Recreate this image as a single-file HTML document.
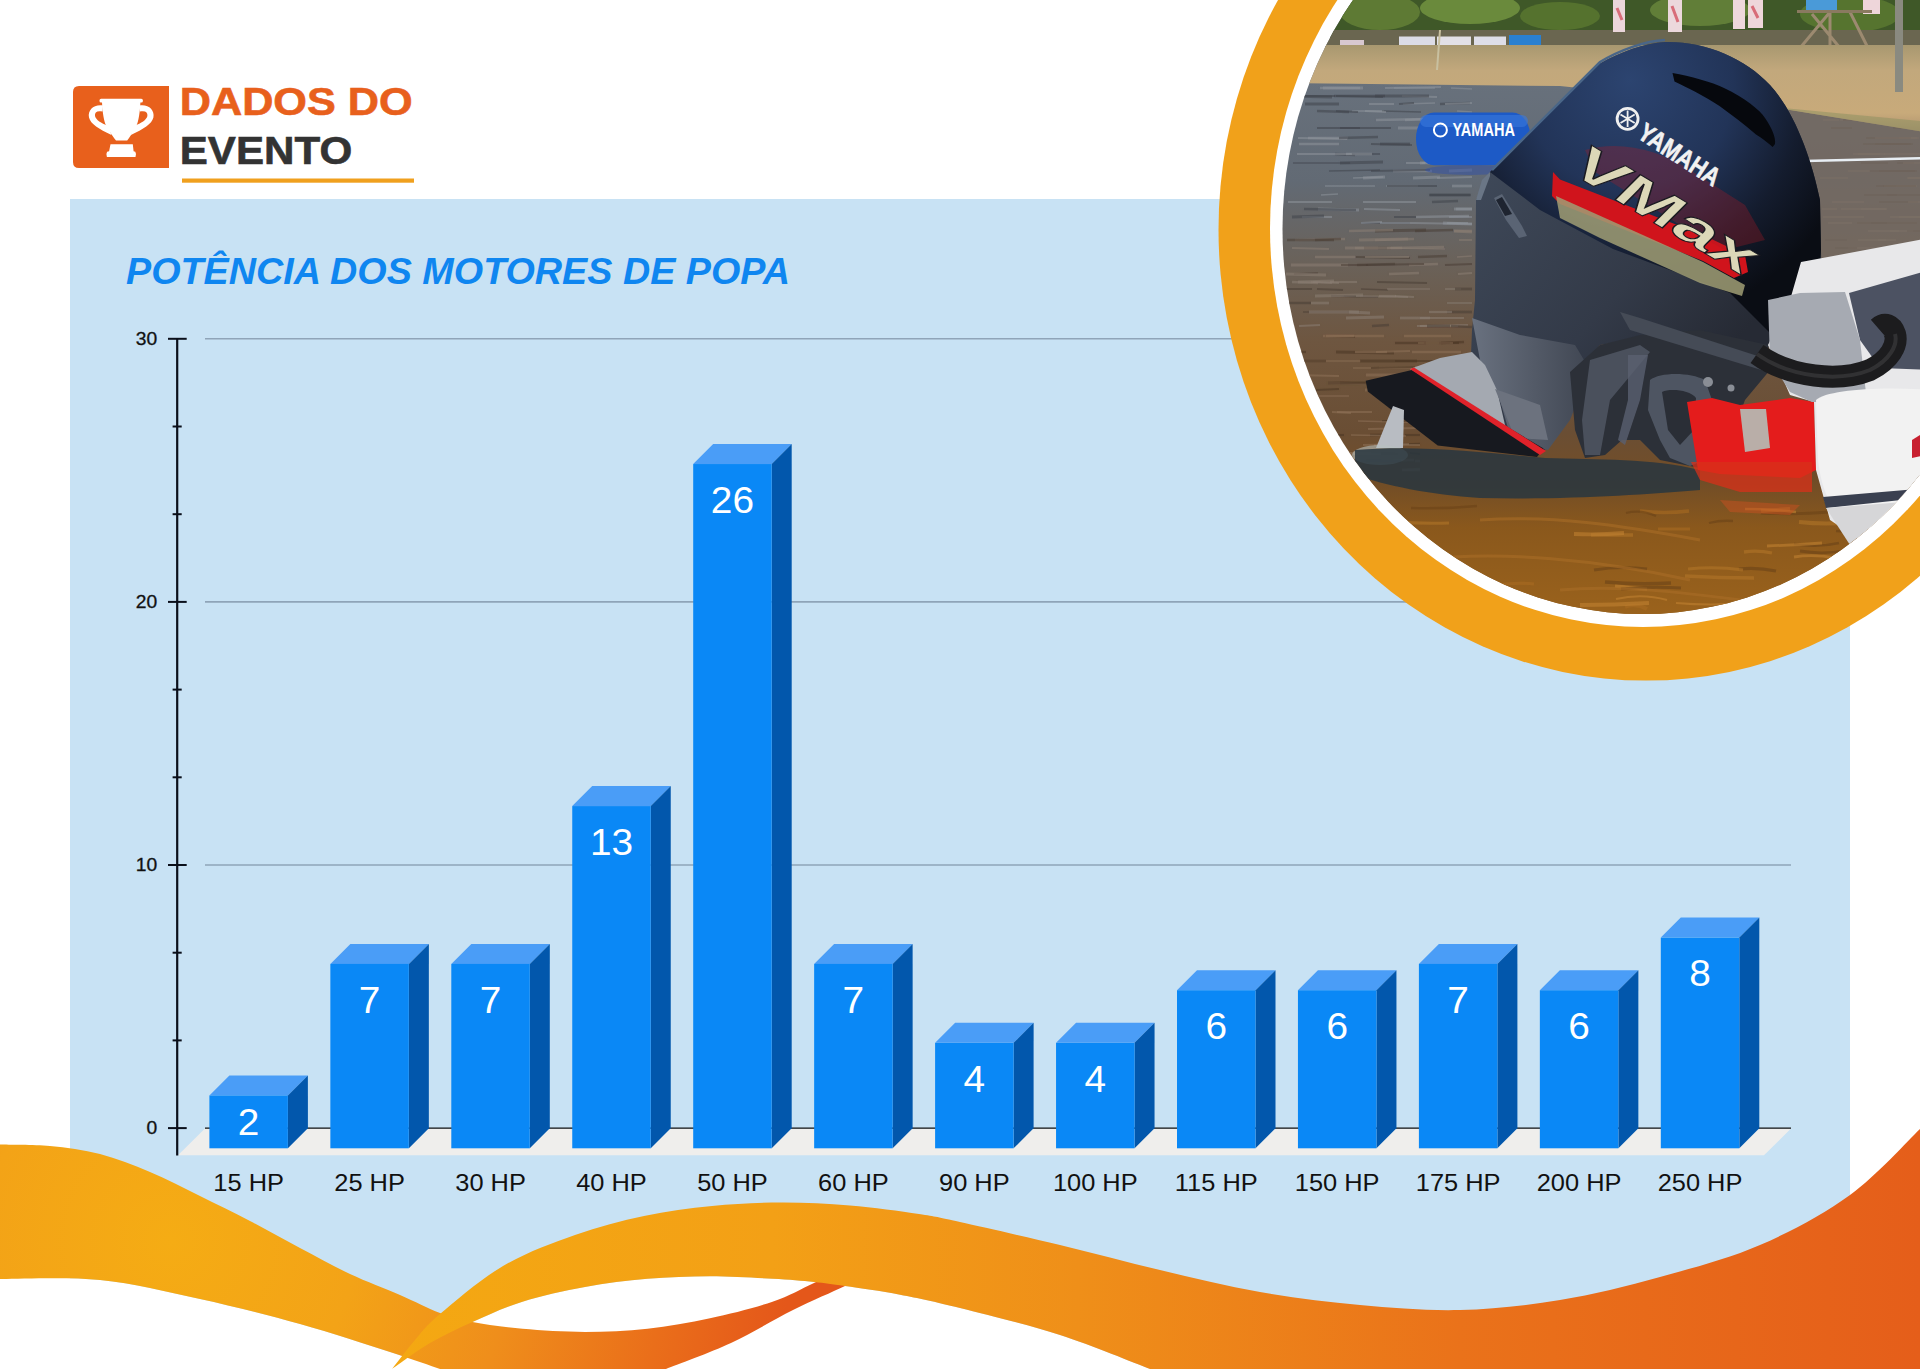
<!DOCTYPE html>
<html><head><meta charset="utf-8"><title>Dados do Evento</title>
<style>
html,body{margin:0;padding:0;background:#fff;}
body{width:1920px;height:1369px;overflow:hidden;position:relative;font-family:"Liberation Sans",sans-serif;}
svg{position:absolute;left:0;top:0;display:block;}
.vl{font-family:"Liberation Sans",sans-serif;font-size:37.5px;fill:#fff;text-anchor:middle;}
.xl{font-family:"Liberation Sans",sans-serif;font-size:23px;fill:#111;text-anchor:middle;}
.yl{font-family:"Liberation Sans",sans-serif;font-size:18px;fill:#111;stroke:#111;stroke-width:0.3px;text-anchor:end;}
.ttl{font-family:"Liberation Sans",sans-serif;font-size:37px;font-weight:bold;font-style:italic;fill:#0F86F0;}
.h1{font-family:"Liberation Sans",sans-serif;font-size:39px;font-weight:bold;}
</style></head>
<body>
<svg width="1920" height="1369" viewBox="0 0 1920 1369">
<rect x="70" y="199" width="1780" height="1170" fill="#C8E2F4"/>
<path d="M79,86 H169 V168 H79 Q73,168 73,162 V92 Q73,86 79,86 Z" fill="#E8601C"/>
<g fill="#ffffff">
<rect x="99.5" y="98.8" width="43.4" height="3.8" rx="1.6"/>
<path d="M102,102 L140.4,102 C140,112 138.5,122 136.3,126 C134.5,130 132,134 127.2,140.5 L116,140.5 C111,134 108.5,130 106.3,126 C104,122 102.4,112 102,102 Z"/>
<path d="M103,105.5 C94,104 87.5,110 89,117.5 C90.5,124 99,129 111.5,135 L108,126 C101,123 96,120 95,116 C94.5,112 97,110.5 102.5,111.5 Z"/>
<path d="M139.4,105.5 C148.4,104 154.9,110 153.4,117.5 C151.9,124 143.4,129 130.9,135 L134.4,126 C141.4,123 146.4,120 147.4,116 C147.9,112 145.4,110.5 139.9,111.5 Z"/>
<path d="M110.5,144.3 L132.8,144.3 L133.6,151.3 L135.3,151.8 Q136.8,154.5 135.5,157 L106.9,157 Q105.6,154.5 107.1,151.8 L109.1,151.3 Z"/>
</g>
<text x="179.7" y="115" class="h1" fill="#E8601C" stroke="#E8601C" stroke-width="0.6" textLength="233" lengthAdjust="spacingAndGlyphs">DADOS DO</text>
<text x="179.7" y="164" class="h1" fill="#333333" stroke="#333333" stroke-width="0.6" textLength="172.5" lengthAdjust="spacingAndGlyphs">EVENTO</text>
<rect x="182" y="178.5" width="232" height="4.2" fill="#F0A01E"/>

<text x="126" y="284.4" class="ttl" textLength="664" lengthAdjust="spacingAndGlyphs">POTÊNCIA DOS MOTORES DE POPA</text>
<polygon points="205,1128.6 1791,1128.6 1764,1155.3 178,1155.3" fill="#EFEEEC"/>
<line x1="205" y1="865" x2="1791" y2="865" stroke="#8FA4B8" stroke-width="1.6"/>
<line x1="205" y1="601.9" x2="1791" y2="601.9" stroke="#8FA4B8" stroke-width="1.6"/>
<line x1="205" y1="338.8" x2="1791" y2="338.8" stroke="#8FA4B8" stroke-width="1.6"/>
<line x1="205" y1="1128.1" x2="1791" y2="1128.1" stroke="#111" stroke-width="1.4"/>
<polygon points="209.4,1095.48 229.4,1075.48 307.9,1075.48 287.9,1095.48" fill="#4A9DF7"/>
<polygon points="287.9,1095.48 307.9,1075.48 307.9,1128.3 287.9,1148.3" fill="#0257AC"/>
<rect x="209.4" y="1095.48" width="78.5" height="52.82" fill="#0A88F6"/>
<text transform="translate(248.65,1135) scale(1.035,1)" class="vl">2</text>
<text transform="translate(248.65,1190.6) scale(1.105,1)" class="xl">15 HP</text>
<polygon points="330.35,963.93 350.35,943.93 428.85,943.93 408.85,963.93" fill="#4A9DF7"/>
<polygon points="408.85,963.93 428.85,943.93 428.85,1128.3 408.85,1148.3" fill="#0257AC"/>
<rect x="330.35" y="963.93" width="78.5" height="184.37" fill="#0A88F6"/>
<text transform="translate(369.6,1012.63) scale(1.035,1)" class="vl">7</text>
<text transform="translate(369.6,1190.6) scale(1.105,1)" class="xl">25 HP</text>
<polygon points="451.3,963.93 471.3,943.93 549.8,943.93 529.8,963.93" fill="#4A9DF7"/>
<polygon points="529.8,963.93 549.8,943.93 549.8,1128.3 529.8,1148.3" fill="#0257AC"/>
<rect x="451.3" y="963.93" width="78.5" height="184.37" fill="#0A88F6"/>
<text transform="translate(490.55,1012.63) scale(1.035,1)" class="vl">7</text>
<text transform="translate(490.55,1190.6) scale(1.105,1)" class="xl">30 HP</text>
<polygon points="572.25,806.07 592.25,786.07 670.75,786.07 650.75,806.07" fill="#4A9DF7"/>
<polygon points="650.75,806.07 670.75,786.07 670.75,1128.3 650.75,1148.3" fill="#0257AC"/>
<rect x="572.25" y="806.07" width="78.5" height="342.23" fill="#0A88F6"/>
<text transform="translate(611.5,854.77) scale(1.035,1)" class="vl">13</text>
<text transform="translate(611.5,1190.6) scale(1.105,1)" class="xl">40 HP</text>
<polygon points="693.2,464.04 713.2,444.04 791.7,444.04 771.7,464.04" fill="#4A9DF7"/>
<polygon points="771.7,464.04 791.7,444.04 791.7,1128.3 771.7,1148.3" fill="#0257AC"/>
<rect x="693.2" y="464.04" width="78.5" height="684.26" fill="#0A88F6"/>
<text transform="translate(732.45,512.74) scale(1.035,1)" class="vl">26</text>
<text transform="translate(732.45,1190.6) scale(1.105,1)" class="xl">50 HP</text>
<polygon points="814.15,963.93 834.15,943.93 912.65,943.93 892.65,963.93" fill="#4A9DF7"/>
<polygon points="892.65,963.93 912.65,943.93 912.65,1128.3 892.65,1148.3" fill="#0257AC"/>
<rect x="814.15" y="963.93" width="78.5" height="184.37" fill="#0A88F6"/>
<text transform="translate(853.4,1012.63) scale(1.035,1)" class="vl">7</text>
<text transform="translate(853.4,1190.6) scale(1.105,1)" class="xl">60 HP</text>
<polygon points="935.1,1042.86 955.1,1022.86 1033.6,1022.86 1013.6,1042.86" fill="#4A9DF7"/>
<polygon points="1013.6,1042.86 1033.6,1022.86 1033.6,1128.3 1013.6,1148.3" fill="#0257AC"/>
<rect x="935.1" y="1042.86" width="78.5" height="105.44" fill="#0A88F6"/>
<text transform="translate(974.35,1091.56) scale(1.035,1)" class="vl">4</text>
<text transform="translate(974.35,1190.6) scale(1.105,1)" class="xl">90 HP</text>
<polygon points="1056.05,1042.86 1076.05,1022.86 1154.55,1022.86 1134.55,1042.86" fill="#4A9DF7"/>
<polygon points="1134.55,1042.86 1154.55,1022.86 1154.55,1128.3 1134.55,1148.3" fill="#0257AC"/>
<rect x="1056.05" y="1042.86" width="78.5" height="105.44" fill="#0A88F6"/>
<text transform="translate(1095.3,1091.56) scale(1.035,1)" class="vl">4</text>
<text transform="translate(1095.3,1190.6) scale(1.105,1)" class="xl">100 HP</text>
<polygon points="1177,990.24 1197,970.24 1275.5,970.24 1255.5,990.24" fill="#4A9DF7"/>
<polygon points="1255.5,990.24 1275.5,970.24 1275.5,1128.3 1255.5,1148.3" fill="#0257AC"/>
<rect x="1177" y="990.24" width="78.5" height="158.06" fill="#0A88F6"/>
<text transform="translate(1216.25,1038.94) scale(1.035,1)" class="vl">6</text>
<text transform="translate(1216.25,1190.6) scale(1.105,1)" class="xl">115 HP</text>
<polygon points="1297.95,990.24 1317.95,970.24 1396.45,970.24 1376.45,990.24" fill="#4A9DF7"/>
<polygon points="1376.45,990.24 1396.45,970.24 1396.45,1128.3 1376.45,1148.3" fill="#0257AC"/>
<rect x="1297.95" y="990.24" width="78.5" height="158.06" fill="#0A88F6"/>
<text transform="translate(1337.2,1038.94) scale(1.035,1)" class="vl">6</text>
<text transform="translate(1337.2,1190.6) scale(1.105,1)" class="xl">150 HP</text>
<polygon points="1418.9,963.93 1438.9,943.93 1517.4,943.93 1497.4,963.93" fill="#4A9DF7"/>
<polygon points="1497.4,963.93 1517.4,943.93 1517.4,1128.3 1497.4,1148.3" fill="#0257AC"/>
<rect x="1418.9" y="963.93" width="78.5" height="184.37" fill="#0A88F6"/>
<text transform="translate(1458.15,1012.63) scale(1.035,1)" class="vl">7</text>
<text transform="translate(1458.15,1190.6) scale(1.105,1)" class="xl">175 HP</text>
<polygon points="1539.85,990.24 1559.85,970.24 1638.35,970.24 1618.35,990.24" fill="#4A9DF7"/>
<polygon points="1618.35,990.24 1638.35,970.24 1638.35,1128.3 1618.35,1148.3" fill="#0257AC"/>
<rect x="1539.85" y="990.24" width="78.5" height="158.06" fill="#0A88F6"/>
<text transform="translate(1579.1,1038.94) scale(1.035,1)" class="vl">6</text>
<text transform="translate(1579.1,1190.6) scale(1.105,1)" class="xl">200 HP</text>
<polygon points="1660.8,937.62 1680.8,917.62 1759.3,917.62 1739.3,937.62" fill="#4A9DF7"/>
<polygon points="1739.3,937.62 1759.3,917.62 1759.3,1128.3 1739.3,1148.3" fill="#0257AC"/>
<rect x="1660.8" y="937.62" width="78.5" height="210.68" fill="#0A88F6"/>
<text transform="translate(1700.05,986.32) scale(1.035,1)" class="vl">8</text>
<text transform="translate(1700.05,1190.6) scale(1.105,1)" class="xl">250 HP</text>
<line x1="177.2" y1="338" x2="177.2" y2="1155.5" stroke="#0A0F1A" stroke-width="2.2"/>
<line x1="168" y1="1128.1" x2="186.7" y2="1128.1" stroke="#0A0F1A" stroke-width="2"/>
<text transform="translate(157.2,1134.3) scale(1.07,1)" class="yl">0</text>
<line x1="172.6" y1="1040.4" x2="181.7" y2="1040.4" stroke="#0A0F1A" stroke-width="2"/>
<line x1="172.6" y1="952.7" x2="181.7" y2="952.7" stroke="#0A0F1A" stroke-width="2"/>
<line x1="168" y1="865" x2="186.7" y2="865" stroke="#0A0F1A" stroke-width="2"/>
<text transform="translate(157.2,871.2) scale(1.07,1)" class="yl">10</text>
<line x1="172.6" y1="777.3" x2="181.7" y2="777.3" stroke="#0A0F1A" stroke-width="2"/>
<line x1="172.6" y1="689.6" x2="181.7" y2="689.6" stroke="#0A0F1A" stroke-width="2"/>
<line x1="168" y1="601.9" x2="186.7" y2="601.9" stroke="#0A0F1A" stroke-width="2"/>
<text transform="translate(157.2,608.1) scale(1.07,1)" class="yl">20</text>
<line x1="172.6" y1="514.2" x2="181.7" y2="514.2" stroke="#0A0F1A" stroke-width="2"/>
<line x1="172.6" y1="426.5" x2="181.7" y2="426.5" stroke="#0A0F1A" stroke-width="2"/>
<line x1="168" y1="338.8" x2="186.7" y2="338.8" stroke="#0A0F1A" stroke-width="2"/>
<text transform="translate(157.2,345) scale(1.07,1)" class="yl">30</text>
<defs>
<radialGradient id="gA" cx="170" cy="1240" r="620" gradientUnits="userSpaceOnUse">
<stop offset="0" stop-color="#F5AC14"/>
<stop offset="0.3" stop-color="#F3A317"/>
<stop offset="0.55" stop-color="#EF8E1B"/>
<stop offset="0.8" stop-color="#EA6E1A"/>
<stop offset="1" stop-color="#E4571A"/>
</radialGradient>
<linearGradient id="gB" x1="390" y1="0" x2="1920" y2="0" gradientUnits="userSpaceOnUse">
<stop offset="0" stop-color="#F4A812"/>
<stop offset="0.25" stop-color="#F3A016"/>
<stop offset="0.45" stop-color="#EF8F19"/>
<stop offset="0.7" stop-color="#EA721A"/>
<stop offset="1" stop-color="#E55E1A"/>
</linearGradient>
</defs>
<path d="M0.0,1279.0 C16.7,1279.2 66.7,1276.7 100.0,1280.0 C133.3,1283.3 166.7,1291.7 200.0,1299.0 C233.3,1306.3 268.3,1315.2 300.0,1324.0 C331.7,1332.8 366.7,1344.5 390.0,1352.0 C413.3,1359.5 431.7,1366.2 440.0,1369.0  L0,1369 Z" fill="#fff"/>
<path d="M392.0,1369.0 C398.3,1364.7 416.6,1350.8 430.0,1343.0 C443.4,1335.2 457.1,1328.9 472.5,1322.0 C487.9,1315.1 503.8,1307.5 522.5,1301.7 C541.2,1295.9 564.2,1290.8 585.0,1287.0 C605.8,1283.2 626.7,1280.5 647.5,1278.8 C668.3,1277.0 689.2,1276.2 710.0,1276.2 C730.8,1276.2 755.2,1277.8 772.5,1278.8 C789.8,1279.7 801.9,1280.8 814.0,1282.0 C826.1,1283.2 830.7,1283.9 845.0,1286.0 C859.3,1288.1 880.8,1291.0 900.0,1294.7 C919.2,1298.4 933.3,1301.3 960.0,1308.0 C986.7,1314.7 1028.3,1324.8 1060.0,1335.0 C1091.7,1345.2 1135.0,1363.3 1150.0,1369.0  Z" fill="#fff"/>
<path d="M0.0,1144.5 C8.3,1144.8 33.3,1144.4 50.0,1146.0 C66.7,1147.6 83.3,1149.7 100.0,1154.0 C116.7,1158.3 133.3,1165.0 150.0,1172.0 C166.7,1179.0 183.3,1187.8 200.0,1196.0 C216.7,1204.2 233.3,1212.3 250.0,1221.0 C266.7,1229.7 283.3,1239.2 300.0,1248.0 C316.7,1256.8 333.3,1266.2 350.0,1274.0 C366.7,1281.8 385.0,1288.5 400.0,1295.0 C415.0,1301.5 427.9,1308.5 440.0,1313.0 C452.1,1317.5 458.8,1319.4 472.5,1322.0 C486.2,1324.6 503.8,1327.1 522.5,1328.8 C541.2,1330.4 564.2,1331.9 585.0,1331.9 C605.8,1331.9 626.7,1331.0 647.5,1328.8 C668.3,1326.5 689.2,1322.8 710.0,1318.3 C730.8,1313.8 755.2,1307.6 772.5,1301.7 C789.8,1295.8 801.1,1289.0 814.0,1283.0 C826.9,1277.0 839.8,1269.5 850.0,1266.0 C860.2,1262.5 870.8,1262.7 875.0,1262.0 C873.3,1264.2 870.0,1271.0 865.0,1275.0 C860.0,1279.0 857.0,1280.2 845.0,1286.0 C833.0,1291.8 812.0,1300.5 793.0,1310.0 C774.0,1319.5 752.2,1333.2 731.0,1343.0 C709.8,1352.8 676.8,1364.7 666.0,1369.0  L440,1369 C431.7,1366.2 413.3,1359.5 390.0,1352.0 C366.7,1344.5 331.7,1332.8 300.0,1324.0 C268.3,1315.2 233.3,1306.3 200.0,1299.0 C166.7,1291.7 133.3,1283.3 100.0,1280.0 C66.7,1276.7 16.7,1279.2 0.0,1279.0 Z" fill="url(#gA)"/>
<path d="M392.0,1369.0 C395.8,1364.2 407.0,1349.2 415.0,1340.0 C423.0,1330.8 425.3,1326.3 440.0,1314.0 C454.7,1301.7 480.5,1279.2 503.0,1266.0 C525.5,1252.8 551.5,1243.3 575.0,1235.0 C598.5,1226.7 621.2,1220.8 644.0,1216.0 C666.8,1211.2 689.2,1208.2 712.0,1206.0 C734.8,1203.8 758.0,1202.6 781.0,1202.5 C804.0,1202.4 827.0,1203.6 850.0,1205.5 C873.0,1207.4 900.7,1211.2 919.0,1214.0 C937.3,1216.8 936.5,1216.8 960.0,1222.0 C983.5,1227.2 1026.7,1237.0 1060.0,1245.0 C1093.3,1253.0 1126.7,1262.2 1160.0,1270.0 C1193.3,1277.8 1226.7,1286.2 1260.0,1292.0 C1293.3,1297.8 1326.7,1302.0 1360.0,1305.0 C1393.3,1308.0 1426.7,1310.8 1460.0,1310.0 C1493.3,1309.2 1526.7,1305.5 1560.0,1300.0 C1593.3,1294.5 1626.7,1286.2 1660.0,1277.0 C1693.3,1267.8 1728.3,1258.7 1760.0,1245.0 C1791.7,1231.3 1823.3,1214.3 1850.0,1195.0 C1876.7,1175.7 1908.3,1140.0 1920.0,1129.0  L1920,1369 L1150,1369 C1135.0,1363.3 1091.7,1345.2 1060.0,1335.0 C1028.3,1324.8 986.7,1314.7 960.0,1308.0 C933.3,1301.3 919.2,1298.4 900.0,1294.7 C880.8,1291.0 859.3,1288.1 845.0,1286.0 C830.7,1283.9 826.1,1283.2 814.0,1282.0 C801.9,1280.8 789.8,1279.7 772.5,1278.8 C755.2,1277.8 730.8,1276.2 710.0,1276.2 C689.2,1276.2 668.3,1277.0 647.5,1278.8 C626.7,1280.5 605.8,1283.2 585.0,1287.0 C564.2,1290.8 541.2,1295.9 522.5,1301.7 C503.8,1307.5 487.9,1315.1 472.5,1322.0 C457.1,1328.9 443.4,1335.2 430.0,1343.0 C416.6,1350.8 398.3,1364.7 392.0,1369.0 Z" fill="url(#gB)"/>
<defs>
<clipPath id="pc"><ellipse cx="1642.5" cy="229" rx="360" ry="385"/></clipPath>
<linearGradient id="wat" x1="0" y1="80" x2="0" y2="614" gradientUnits="userSpaceOnUse">
<stop offset="0" stop-color="#68717c"/>
<stop offset="0.19" stop-color="#626a74"/>
<stop offset="0.34" stop-color="#6a625a"/>
<stop offset="0.49" stop-color="#6e5640"/>
<stop offset="0.66" stop-color="#6a4e34"/>
<stop offset="0.8" stop-color="#7a4e1e"/>
<stop offset="1" stop-color="#8c5c1e"/>
</linearGradient>
<linearGradient id="beach" x1="0" y1="45" x2="0" y2="130" gradientUnits="userSpaceOnUse">
<stop offset="0" stop-color="#a89870"/>
<stop offset="0.3" stop-color="#c2a87c"/>
<stop offset="0.8" stop-color="#c8aa7a"/>
<stop offset="1" stop-color="#b09470"/>
</linearGradient>
<radialGradient id="cowl" cx="1630" cy="95" r="230" fx="1630" fy="80" gradientUnits="userSpaceOnUse">
<stop offset="0" stop-color="#2c4470"/>
<stop offset="0.45" stop-color="#223458"/>
<stop offset="0.75" stop-color="#141c2e"/>
<stop offset="1" stop-color="#0a0d14"/>
</radialGradient>
<linearGradient id="apron" x1="1480" y1="180" x2="1700" y2="380" gradientUnits="userSpaceOnUse">
<stop offset="0" stop-color="#3e4858"/>
<stop offset="0.6" stop-color="#333a48"/>
<stop offset="1" stop-color="#262a34"/>
</linearGradient>
<linearGradient id="leg" x1="1470" y1="0" x2="1600" y2="0" gradientUnits="userSpaceOnUse">
<stop offset="0" stop-color="#6a7280"/>
<stop offset="1" stop-color="#3c424e"/>
</linearGradient>
<linearGradient id="amber" x1="0" y1="470" x2="0" y2="614" gradientUnits="userSpaceOnUse">
<stop offset="0" stop-color="#6a4a2a"/>
<stop offset="0.4" stop-color="#8a581c"/>
<stop offset="1" stop-color="#9a621c"/>
</linearGradient>
</defs>
<ellipse cx="1646" cy="229.6" rx="427.5" ry="451" fill="#F1A11A"/>
<ellipse cx="1643" cy="228.5" rx="373" ry="398.5" fill="#ffffff"/>
<g clip-path="url(#pc)">
<rect x="1270" y="-10" width="660" height="640" fill="url(#wat)"/>
<rect x="1270" y="470" width="660" height="160" fill="url(#amber)"/>
<line x1="1451" y1="88" x2="1472" y2="89" stroke="#8e949c" stroke-width="1.6" opacity="0.55"/>
<line x1="1385" y1="88" x2="1441" y2="87" stroke="#8e949c" stroke-width="2.1" opacity="0.55"/>
<line x1="1323" y1="88" x2="1363" y2="88" stroke="#8e949c" stroke-width="2.9" opacity="0.55"/>
<line x1="1394" y1="88" x2="1435" y2="88" stroke="#8e949c" stroke-width="1.6" opacity="0.55"/>
<line x1="1320" y1="88" x2="1360" y2="88" stroke="#8e949c" stroke-width="2.3" opacity="0.55"/>
<line x1="1871" y1="88" x2="1906" y2="88" stroke="#4e4640" stroke-width="2" opacity="0.5"/>
<line x1="1829" y1="88" x2="1864" y2="88" stroke="#948a82" stroke-width="2" opacity="0.5"/>
<line x1="1829" y1="88" x2="1869" y2="88" stroke="#4e4640" stroke-width="2" opacity="0.5"/>
<line x1="1402" y1="96" x2="1437" y2="97" stroke="#8e949c" stroke-width="2.2" opacity="0.55"/>
<line x1="1334" y1="96" x2="1385" y2="96" stroke="#40444c" stroke-width="2.4" opacity="0.55"/>
<line x1="1375" y1="96" x2="1429" y2="96" stroke="#40444c" stroke-width="3.0" opacity="0.55"/>
<line x1="1301" y1="96" x2="1335" y2="96" stroke="#40444c" stroke-width="2.2" opacity="0.55"/>
<line x1="1287" y1="96" x2="1332" y2="97" stroke="#40444c" stroke-width="2.8" opacity="0.55"/>
<line x1="1336" y1="96" x2="1383" y2="97" stroke="#40444c" stroke-width="2.2" opacity="0.55"/>
<line x1="1896" y1="96" x2="1944" y2="96" stroke="#948a82" stroke-width="2" opacity="0.5"/>
<line x1="1880" y1="96" x2="1897" y2="96" stroke="#4e4640" stroke-width="2" opacity="0.5"/>
<line x1="1878" y1="96" x2="1928" y2="96" stroke="#4e4640" stroke-width="2" opacity="0.5"/>
<line x1="1440" y1="104" x2="1470" y2="103" stroke="#40444c" stroke-width="2.4" opacity="0.55"/>
<line x1="1369" y1="104" x2="1394" y2="104" stroke="#8e949c" stroke-width="2.1" opacity="0.55"/>
<line x1="1445" y1="104" x2="1472" y2="103" stroke="#8e949c" stroke-width="1.9" opacity="0.55"/>
<line x1="1305" y1="104" x2="1339" y2="104" stroke="#40444c" stroke-width="3.0" opacity="0.55"/>
<line x1="1403" y1="104" x2="1435" y2="103" stroke="#8e949c" stroke-width="1.7" opacity="0.55"/>
<line x1="1399" y1="104" x2="1414" y2="103" stroke="#40444c" stroke-width="1.9" opacity="0.55"/>
<line x1="1833" y1="104" x2="1867" y2="104" stroke="#4e4640" stroke-width="2" opacity="0.5"/>
<line x1="1849" y1="104" x2="1868" y2="104" stroke="#4e4640" stroke-width="2" opacity="0.5"/>
<line x1="1906" y1="104" x2="1943" y2="104" stroke="#4e4640" stroke-width="2" opacity="0.5"/>
<line x1="1352" y1="111" x2="1384" y2="111" stroke="#8e949c" stroke-width="1.8" opacity="0.55"/>
<line x1="1457" y1="111" x2="1472" y2="112" stroke="#8e949c" stroke-width="1.7" opacity="0.55"/>
<line x1="1382" y1="111" x2="1421" y2="112" stroke="#40444c" stroke-width="1.6" opacity="0.55"/>
<line x1="1317" y1="111" x2="1349" y2="112" stroke="#40444c" stroke-width="2.4" opacity="0.55"/>
<line x1="1365" y1="111" x2="1386" y2="112" stroke="#8e949c" stroke-width="2.2" opacity="0.55"/>
<line x1="1336" y1="111" x2="1358" y2="112" stroke="#40444c" stroke-width="2.2" opacity="0.55"/>
<line x1="1882" y1="111" x2="1915" y2="111" stroke="#948a82" stroke-width="2" opacity="0.5"/>
<line x1="1906" y1="111" x2="1933" y2="111" stroke="#4e4640" stroke-width="2" opacity="0.5"/>
<line x1="1902" y1="111" x2="1944" y2="111" stroke="#948a82" stroke-width="2" opacity="0.5"/>
<line x1="1405" y1="120" x2="1432" y2="119" stroke="#8e949c" stroke-width="2.7" opacity="0.55"/>
<line x1="1376" y1="120" x2="1426" y2="119" stroke="#8e949c" stroke-width="2.7" opacity="0.55"/>
<line x1="1457" y1="120" x2="1472" y2="121" stroke="#40444c" stroke-width="2.6" opacity="0.55"/>
<line x1="1840" y1="120" x2="1874" y2="120" stroke="#948a82" stroke-width="2" opacity="0.5"/>
<line x1="1823" y1="120" x2="1839" y2="120" stroke="#948a82" stroke-width="2" opacity="0.5"/>
<line x1="1843" y1="120" x2="1883" y2="120" stroke="#4e4640" stroke-width="2" opacity="0.5"/>
<line x1="1452" y1="128" x2="1472" y2="127" stroke="#8e949c" stroke-width="1.8" opacity="0.55"/>
<line x1="1317" y1="128" x2="1360" y2="128" stroke="#40444c" stroke-width="2.2" opacity="0.55"/>
<line x1="1398" y1="128" x2="1449" y2="128" stroke="#8e949c" stroke-width="2.9" opacity="0.55"/>
<line x1="1421" y1="128" x2="1470" y2="127" stroke="#8e949c" stroke-width="2.7" opacity="0.55"/>
<line x1="1340" y1="128" x2="1391" y2="128" stroke="#40444c" stroke-width="2.1" opacity="0.55"/>
<line x1="1905" y1="128" x2="1946" y2="128" stroke="#948a82" stroke-width="2" opacity="0.5"/>
<line x1="1831" y1="128" x2="1852" y2="128" stroke="#4e4640" stroke-width="2" opacity="0.5"/>
<line x1="1893" y1="128" x2="1913" y2="128" stroke="#4e4640" stroke-width="2" opacity="0.5"/>
<line x1="1308" y1="138" x2="1348" y2="138" stroke="#8e949c" stroke-width="2.6" opacity="0.55"/>
<line x1="1298" y1="138" x2="1347" y2="139" stroke="#8e949c" stroke-width="1.8" opacity="0.55"/>
<line x1="1437" y1="138" x2="1454" y2="138" stroke="#8e949c" stroke-width="2.6" opacity="0.55"/>
<line x1="1339" y1="138" x2="1378" y2="137" stroke="#40444c" stroke-width="2.6" opacity="0.55"/>
<line x1="1442" y1="138" x2="1472" y2="138" stroke="#40444c" stroke-width="2.7" opacity="0.55"/>
<line x1="1899" y1="138" x2="1919" y2="138" stroke="#948a82" stroke-width="2" opacity="0.5"/>
<line x1="1866" y1="138" x2="1911" y2="138" stroke="#4e4640" stroke-width="2" opacity="0.5"/>
<line x1="1875" y1="138" x2="1917" y2="138" stroke="#948a82" stroke-width="2" opacity="0.5"/>
<line x1="1380" y1="144" x2="1410" y2="144" stroke="#40444c" stroke-width="2.7" opacity="0.55"/>
<line x1="1299" y1="144" x2="1339" y2="144" stroke="#8e949c" stroke-width="2.7" opacity="0.55"/>
<line x1="1371" y1="144" x2="1412" y2="145" stroke="#40444c" stroke-width="2.2" opacity="0.55"/>
<line x1="1875" y1="144" x2="1908" y2="144" stroke="#4e4640" stroke-width="2" opacity="0.5"/>
<line x1="1882" y1="144" x2="1913" y2="144" stroke="#4e4640" stroke-width="2" opacity="0.5"/>
<line x1="1863" y1="144" x2="1911" y2="144" stroke="#4e4640" stroke-width="2" opacity="0.5"/>
<line x1="1446" y1="154" x2="1472" y2="154" stroke="#8e949c" stroke-width="2.1" opacity="0.55"/>
<line x1="1351" y1="154" x2="1380" y2="154" stroke="#40444c" stroke-width="1.8" opacity="0.55"/>
<line x1="1335" y1="154" x2="1355" y2="155" stroke="#40444c" stroke-width="2.5" opacity="0.55"/>
<line x1="1346" y1="154" x2="1372" y2="154" stroke="#8e949c" stroke-width="2.6" opacity="0.55"/>
<line x1="1297" y1="154" x2="1352" y2="154" stroke="#8e949c" stroke-width="1.8" opacity="0.55"/>
<line x1="1884" y1="154" x2="1933" y2="154" stroke="#948a82" stroke-width="2" opacity="0.5"/>
<line x1="1858" y1="154" x2="1885" y2="154" stroke="#948a82" stroke-width="2" opacity="0.5"/>
<line x1="1853" y1="154" x2="1880" y2="154" stroke="#948a82" stroke-width="2" opacity="0.5"/>
<line x1="1340" y1="163" x2="1383" y2="162" stroke="#40444c" stroke-width="3.0" opacity="0.55"/>
<line x1="1422" y1="163" x2="1472" y2="162" stroke="#8e949c" stroke-width="1.6" opacity="0.55"/>
<line x1="1420" y1="163" x2="1447" y2="162" stroke="#8e949c" stroke-width="2.9" opacity="0.55"/>
<line x1="1427" y1="163" x2="1454" y2="163" stroke="#8e949c" stroke-width="2.4" opacity="0.55"/>
<line x1="1406" y1="163" x2="1425" y2="163" stroke="#8e949c" stroke-width="2.1" opacity="0.55"/>
<line x1="1293" y1="163" x2="1350" y2="163" stroke="#40444c" stroke-width="1.6" opacity="0.55"/>
<line x1="1897" y1="163" x2="1914" y2="163" stroke="#4e4640" stroke-width="2" opacity="0.5"/>
<line x1="1861" y1="163" x2="1888" y2="163" stroke="#4e4640" stroke-width="2" opacity="0.5"/>
<line x1="1903" y1="163" x2="1928" y2="163" stroke="#948a82" stroke-width="2" opacity="0.5"/>
<line x1="1449" y1="171" x2="1472" y2="170" stroke="#8e949c" stroke-width="2.9" opacity="0.55"/>
<line x1="1393" y1="171" x2="1432" y2="171" stroke="#8e949c" stroke-width="2.5" opacity="0.55"/>
<line x1="1329" y1="171" x2="1380" y2="170" stroke="#40444c" stroke-width="1.5" opacity="0.55"/>
<line x1="1371" y1="171" x2="1430" y2="170" stroke="#40444c" stroke-width="2.2" opacity="0.55"/>
<line x1="1879" y1="171" x2="1917" y2="171" stroke="#4e4640" stroke-width="2" opacity="0.5"/>
<line x1="1869" y1="171" x2="1915" y2="171" stroke="#4e4640" stroke-width="2" opacity="0.5"/>
<line x1="1848" y1="171" x2="1870" y2="171" stroke="#948a82" stroke-width="2" opacity="0.5"/>
<line x1="1353" y1="178" x2="1383" y2="177" stroke="#8e949c" stroke-width="1.6" opacity="0.55"/>
<line x1="1413" y1="178" x2="1440" y2="177" stroke="#8e949c" stroke-width="2.8" opacity="0.55"/>
<line x1="1437" y1="178" x2="1472" y2="177" stroke="#8e949c" stroke-width="1.9" opacity="0.55"/>
<line x1="1363" y1="178" x2="1385" y2="177" stroke="#8e949c" stroke-width="2.9" opacity="0.55"/>
<line x1="1908" y1="178" x2="1942" y2="178" stroke="#948a82" stroke-width="2" opacity="0.5"/>
<line x1="1907" y1="178" x2="1933" y2="178" stroke="#948a82" stroke-width="2" opacity="0.5"/>
<line x1="1820" y1="178" x2="1848" y2="178" stroke="#948a82" stroke-width="2" opacity="0.5"/>
<line x1="1325" y1="186" x2="1375" y2="186" stroke="#8e949c" stroke-width="1.7" opacity="0.55"/>
<line x1="1386" y1="186" x2="1418" y2="186" stroke="#8e949c" stroke-width="1.6" opacity="0.55"/>
<line x1="1452" y1="186" x2="1472" y2="186" stroke="#8e949c" stroke-width="2.7" opacity="0.55"/>
<line x1="1387" y1="186" x2="1437" y2="186" stroke="#40444c" stroke-width="1.9" opacity="0.55"/>
<line x1="1876" y1="186" x2="1896" y2="186" stroke="#4e4640" stroke-width="2" opacity="0.5"/>
<line x1="1884" y1="186" x2="1917" y2="186" stroke="#948a82" stroke-width="2" opacity="0.5"/>
<line x1="1883" y1="186" x2="1916" y2="186" stroke="#4e4640" stroke-width="2" opacity="0.5"/>
<line x1="1429" y1="195" x2="1470" y2="195" stroke="#40444c" stroke-width="2.5" opacity="0.55"/>
<line x1="1321" y1="195" x2="1338" y2="194" stroke="#8e949c" stroke-width="1.7" opacity="0.55"/>
<line x1="1430" y1="195" x2="1471" y2="195" stroke="#40444c" stroke-width="2.5" opacity="0.55"/>
<line x1="1864" y1="195" x2="1879" y2="195" stroke="#4e4640" stroke-width="2" opacity="0.5"/>
<line x1="1887" y1="195" x2="1920" y2="195" stroke="#4e4640" stroke-width="2" opacity="0.5"/>
<line x1="1879" y1="195" x2="1897" y2="195" stroke="#4e4640" stroke-width="2" opacity="0.5"/>
<line x1="1432" y1="202" x2="1458" y2="201" stroke="#40444c" stroke-width="2.5" opacity="0.55"/>
<line x1="1363" y1="202" x2="1416" y2="202" stroke="#8e949c" stroke-width="1.9" opacity="0.55"/>
<line x1="1288" y1="202" x2="1332" y2="202" stroke="#8e949c" stroke-width="2.0" opacity="0.55"/>
<line x1="1879" y1="202" x2="1918" y2="202" stroke="#4e4640" stroke-width="2" opacity="0.5"/>
<line x1="1832" y1="202" x2="1864" y2="202" stroke="#948a82" stroke-width="2" opacity="0.5"/>
<line x1="1908" y1="202" x2="1926" y2="202" stroke="#948a82" stroke-width="2" opacity="0.5"/>
<line x1="1364" y1="209" x2="1400" y2="210" stroke="#8e949c" stroke-width="1.8" opacity="0.55"/>
<line x1="1456" y1="209" x2="1472" y2="209" stroke="#8e949c" stroke-width="2.7" opacity="0.55"/>
<line x1="1454" y1="209" x2="1472" y2="209" stroke="#8e949c" stroke-width="2.9" opacity="0.55"/>
<line x1="1318" y1="209" x2="1359" y2="210" stroke="#8e949c" stroke-width="2.9" opacity="0.55"/>
<line x1="1304" y1="209" x2="1356" y2="210" stroke="#40444c" stroke-width="2.6" opacity="0.55"/>
<line x1="1841" y1="209" x2="1887" y2="209" stroke="#948a82" stroke-width="2" opacity="0.5"/>
<line x1="1822" y1="209" x2="1837" y2="209" stroke="#948a82" stroke-width="2" opacity="0.5"/>
<line x1="1861" y1="209" x2="1886" y2="209" stroke="#948a82" stroke-width="2" opacity="0.5"/>
<line x1="1302" y1="217" x2="1332" y2="217" stroke="#8e949c" stroke-width="2.1" opacity="0.55"/>
<line x1="1449" y1="217" x2="1472" y2="217" stroke="#8e949c" stroke-width="1.9" opacity="0.55"/>
<line x1="1292" y1="217" x2="1324" y2="216" stroke="#40444c" stroke-width="2.9" opacity="0.55"/>
<line x1="1416" y1="217" x2="1469" y2="216" stroke="#8e949c" stroke-width="2.5" opacity="0.55"/>
<line x1="1394" y1="217" x2="1416" y2="217" stroke="#40444c" stroke-width="2.0" opacity="0.55"/>
<line x1="1890" y1="217" x2="1932" y2="217" stroke="#948a82" stroke-width="2" opacity="0.5"/>
<line x1="1823" y1="217" x2="1864" y2="217" stroke="#948a82" stroke-width="2" opacity="0.5"/>
<line x1="1899" y1="217" x2="1933" y2="217" stroke="#948a82" stroke-width="2" opacity="0.5"/>
<line x1="1361" y1="223" x2="1410" y2="223" stroke="#40444c" stroke-width="1.6" opacity="0.55"/>
<line x1="1447" y1="223" x2="1468" y2="223" stroke="#8e949c" stroke-width="1.9" opacity="0.55"/>
<line x1="1413" y1="223" x2="1472" y2="224" stroke="#8e949c" stroke-width="2.0" opacity="0.55"/>
<line x1="1380" y1="223" x2="1413" y2="223" stroke="#8e949c" stroke-width="1.8" opacity="0.55"/>
<line x1="1443" y1="223" x2="1472" y2="224" stroke="#8e949c" stroke-width="3.0" opacity="0.55"/>
<line x1="1361" y1="223" x2="1382" y2="222" stroke="#8e949c" stroke-width="2.0" opacity="0.55"/>
<line x1="1828" y1="223" x2="1852" y2="223" stroke="#948a82" stroke-width="2" opacity="0.5"/>
<line x1="1871" y1="223" x2="1917" y2="223" stroke="#4e4640" stroke-width="2" opacity="0.5"/>
<line x1="1857" y1="223" x2="1887" y2="223" stroke="#4e4640" stroke-width="2" opacity="0.5"/>
<line x1="1415" y1="231" x2="1453" y2="230" stroke="#4a3e36" stroke-width="2.5" opacity="0.55"/>
<line x1="1375" y1="231" x2="1426" y2="230" stroke="#4a3e36" stroke-width="2.8" opacity="0.55"/>
<line x1="1349" y1="231" x2="1393" y2="230" stroke="#8a7e74" stroke-width="2.7" opacity="0.55"/>
<line x1="1454" y1="231" x2="1472" y2="231" stroke="#8a7e74" stroke-width="2.7" opacity="0.55"/>
<line x1="1454" y1="231" x2="1472" y2="232" stroke="#8a7e74" stroke-width="2.9" opacity="0.55"/>
<line x1="1868" y1="231" x2="1899" y2="231" stroke="#948a82" stroke-width="2" opacity="0.5"/>
<line x1="1890" y1="231" x2="1913" y2="231" stroke="#948a82" stroke-width="2" opacity="0.5"/>
<line x1="1907" y1="231" x2="1926" y2="231" stroke="#4e4640" stroke-width="2" opacity="0.5"/>
<line x1="1295" y1="240" x2="1345" y2="239" stroke="#8a7e74" stroke-width="2.4" opacity="0.55"/>
<line x1="1287" y1="240" x2="1334" y2="240" stroke="#4a3e36" stroke-width="2.3" opacity="0.55"/>
<line x1="1359" y1="240" x2="1408" y2="239" stroke="#8a7e74" stroke-width="2.9" opacity="0.55"/>
<line x1="1315" y1="240" x2="1341" y2="239" stroke="#4a3e36" stroke-width="2.3" opacity="0.55"/>
<line x1="1459" y1="240" x2="1472" y2="240" stroke="#8a7e74" stroke-width="1.9" opacity="0.55"/>
<line x1="1375" y1="240" x2="1414" y2="239" stroke="#8a7e74" stroke-width="2.5" opacity="0.55"/>
<line x1="1825" y1="240" x2="1847" y2="240" stroke="#4e4640" stroke-width="2" opacity="0.5"/>
<line x1="1878" y1="240" x2="1896" y2="240" stroke="#948a82" stroke-width="2" opacity="0.5"/>
<line x1="1858" y1="240" x2="1886" y2="240" stroke="#948a82" stroke-width="2" opacity="0.5"/>
<line x1="1345" y1="248" x2="1378" y2="248" stroke="#8a7e74" stroke-width="2.8" opacity="0.55"/>
<line x1="1292" y1="248" x2="1329" y2="249" stroke="#8a7e74" stroke-width="1.8" opacity="0.55"/>
<line x1="1364" y1="248" x2="1391" y2="248" stroke="#4a3e36" stroke-width="2.4" opacity="0.55"/>
<line x1="1390" y1="248" x2="1445" y2="249" stroke="#8a7e74" stroke-width="1.6" opacity="0.55"/>
<line x1="1387" y1="248" x2="1444" y2="247" stroke="#8a7e74" stroke-width="2.4" opacity="0.55"/>
<line x1="1355" y1="248" x2="1402" y2="248" stroke="#8a7e74" stroke-width="2.6" opacity="0.55"/>
<line x1="1848" y1="248" x2="1867" y2="248" stroke="#948a82" stroke-width="2" opacity="0.5"/>
<line x1="1835" y1="248" x2="1857" y2="248" stroke="#4e4640" stroke-width="2" opacity="0.5"/>
<line x1="1867" y1="248" x2="1899" y2="248" stroke="#948a82" stroke-width="2" opacity="0.5"/>
<line x1="1457" y1="257" x2="1472" y2="256" stroke="#8a7e74" stroke-width="1.6" opacity="0.55"/>
<line x1="1356" y1="257" x2="1410" y2="258" stroke="#4a3e36" stroke-width="2.1" opacity="0.55"/>
<line x1="1418" y1="257" x2="1447" y2="256" stroke="#4a3e36" stroke-width="2.6" opacity="0.55"/>
<line x1="1315" y1="257" x2="1355" y2="257" stroke="#8a7e74" stroke-width="2.6" opacity="0.55"/>
<line x1="1365" y1="257" x2="1409" y2="257" stroke="#8a7e74" stroke-width="2.1" opacity="0.55"/>
<line x1="1291" y1="265" x2="1348" y2="265" stroke="#8a7e74" stroke-width="2.8" opacity="0.55"/>
<line x1="1341" y1="265" x2="1368" y2="265" stroke="#4a3e36" stroke-width="1.9" opacity="0.55"/>
<line x1="1409" y1="265" x2="1438" y2="264" stroke="#8a7e74" stroke-width="2.6" opacity="0.55"/>
<line x1="1445" y1="265" x2="1472" y2="264" stroke="#4a3e36" stroke-width="1.9" opacity="0.55"/>
<line x1="1366" y1="265" x2="1424" y2="264" stroke="#4a3e36" stroke-width="1.9" opacity="0.55"/>
<line x1="1357" y1="265" x2="1395" y2="264" stroke="#4a3e36" stroke-width="2.7" opacity="0.55"/>
<line x1="1389" y1="274" x2="1419" y2="273" stroke="#8a7e74" stroke-width="2.7" opacity="0.55"/>
<line x1="1294" y1="274" x2="1318" y2="273" stroke="#4a3e36" stroke-width="1.6" opacity="0.55"/>
<line x1="1286" y1="274" x2="1326" y2="275" stroke="#8a7e74" stroke-width="2.8" opacity="0.55"/>
<line x1="1458" y1="274" x2="1472" y2="273" stroke="#8a7e74" stroke-width="2.2" opacity="0.55"/>
<line x1="1311" y1="282" x2="1332" y2="283" stroke="#8a7e74" stroke-width="1.9" opacity="0.55"/>
<line x1="1377" y1="282" x2="1427" y2="283" stroke="#4a3e36" stroke-width="1.9" opacity="0.55"/>
<line x1="1330" y1="282" x2="1357" y2="282" stroke="#8a7e74" stroke-width="2.2" opacity="0.55"/>
<line x1="1313" y1="282" x2="1339" y2="283" stroke="#8a7e74" stroke-width="1.8" opacity="0.55"/>
<line x1="1292" y1="282" x2="1318" y2="283" stroke="#8a7e74" stroke-width="2.5" opacity="0.55"/>
<line x1="1298" y1="282" x2="1334" y2="281" stroke="#8a7e74" stroke-width="2.8" opacity="0.55"/>
<line x1="1445" y1="289" x2="1461" y2="289" stroke="#8a7e74" stroke-width="1.8" opacity="0.55"/>
<line x1="1455" y1="289" x2="1472" y2="289" stroke="#4a3e36" stroke-width="2.8" opacity="0.55"/>
<line x1="1361" y1="289" x2="1388" y2="290" stroke="#4a3e36" stroke-width="1.7" opacity="0.55"/>
<line x1="1387" y1="289" x2="1430" y2="289" stroke="#8a7e74" stroke-width="1.7" opacity="0.55"/>
<line x1="1317" y1="289" x2="1343" y2="290" stroke="#4a3e36" stroke-width="1.8" opacity="0.55"/>
<line x1="1282" y1="289" x2="1312" y2="289" stroke="#4a3e36" stroke-width="2.0" opacity="0.55"/>
<line x1="1379" y1="296" x2="1396" y2="296" stroke="#8a7e74" stroke-width="2.3" opacity="0.55"/>
<line x1="1395" y1="296" x2="1414" y2="297" stroke="#8a7e74" stroke-width="2.1" opacity="0.55"/>
<line x1="1331" y1="296" x2="1360" y2="296" stroke="#4a3e36" stroke-width="2.3" opacity="0.55"/>
<line x1="1344" y1="296" x2="1378" y2="297" stroke="#4a3e36" stroke-width="2.0" opacity="0.55"/>
<line x1="1315" y1="296" x2="1363" y2="295" stroke="#8a7e74" stroke-width="2.9" opacity="0.55"/>
<line x1="1356" y1="296" x2="1408" y2="297" stroke="#8a7e74" stroke-width="2.2" opacity="0.55"/>
<line x1="1289" y1="303" x2="1311" y2="303" stroke="#4a3e36" stroke-width="2.4" opacity="0.55"/>
<line x1="1447" y1="303" x2="1472" y2="303" stroke="#8a7e74" stroke-width="1.7" opacity="0.55"/>
<line x1="1311" y1="303" x2="1329" y2="303" stroke="#8a7e74" stroke-width="2.7" opacity="0.55"/>
<line x1="1303" y1="312" x2="1360" y2="312" stroke="#4a3e36" stroke-width="1.6" opacity="0.55"/>
<line x1="1447" y1="312" x2="1472" y2="312" stroke="#4a3e36" stroke-width="2.7" opacity="0.55"/>
<line x1="1309" y1="312" x2="1359" y2="312" stroke="#8a7e74" stroke-width="2.8" opacity="0.55"/>
<line x1="1429" y1="312" x2="1452" y2="312" stroke="#8a7e74" stroke-width="2.3" opacity="0.55"/>
<line x1="1349" y1="312" x2="1370" y2="313" stroke="#8a7e74" stroke-width="2.8" opacity="0.55"/>
<line x1="1400" y1="318" x2="1430" y2="318" stroke="#8a7e74" stroke-width="2.8" opacity="0.55"/>
<line x1="1420" y1="318" x2="1464" y2="318" stroke="#8a7e74" stroke-width="2.1" opacity="0.55"/>
<line x1="1346" y1="318" x2="1384" y2="317" stroke="#8a7e74" stroke-width="3.0" opacity="0.55"/>
<line x1="1417" y1="326" x2="1468" y2="325" stroke="#8a7e74" stroke-width="2.2" opacity="0.55"/>
<line x1="1299" y1="326" x2="1320" y2="325" stroke="#8a7e74" stroke-width="2.2" opacity="0.55"/>
<line x1="1372" y1="326" x2="1389" y2="325" stroke="#4a3e36" stroke-width="2.6" opacity="0.55"/>
<line x1="1420" y1="326" x2="1458" y2="326" stroke="#8a7e74" stroke-width="2.1" opacity="0.55"/>
<line x1="1451" y1="326" x2="1472" y2="327" stroke="#4a3e36" stroke-width="2.6" opacity="0.55"/>
<line x1="1427" y1="326" x2="1450" y2="326" stroke="#4a3e36" stroke-width="2.9" opacity="0.55"/>
<line x1="1404" y1="336" x2="1451" y2="336" stroke="#8e7258" stroke-width="2.4" opacity="0.55"/>
<line x1="1325" y1="336" x2="1355" y2="337" stroke="#4a3624" stroke-width="2.2" opacity="0.55"/>
<line x1="1326" y1="336" x2="1384" y2="336" stroke="#8e7258" stroke-width="2.4" opacity="0.55"/>
<line x1="1323" y1="336" x2="1354" y2="336" stroke="#8e7258" stroke-width="2.5" opacity="0.55"/>
<line x1="1441" y1="343" x2="1464" y2="342" stroke="#4a3624" stroke-width="2.3" opacity="0.55"/>
<line x1="1395" y1="343" x2="1426" y2="343" stroke="#4a3624" stroke-width="2.4" opacity="0.55"/>
<line x1="1439" y1="343" x2="1459" y2="343" stroke="#4a3624" stroke-width="2.1" opacity="0.55"/>
<line x1="1424" y1="343" x2="1450" y2="343" stroke="#4a3624" stroke-width="2.0" opacity="0.55"/>
<line x1="1418" y1="343" x2="1453" y2="343" stroke="#8e7258" stroke-width="1.6" opacity="0.55"/>
<line x1="1336" y1="352" x2="1394" y2="353" stroke="#4a3624" stroke-width="2.8" opacity="0.55"/>
<line x1="1412" y1="352" x2="1461" y2="352" stroke="#8e7258" stroke-width="2.4" opacity="0.55"/>
<line x1="1355" y1="352" x2="1387" y2="352" stroke="#8e7258" stroke-width="2.4" opacity="0.55"/>
<line x1="1288" y1="352" x2="1306" y2="352" stroke="#4a3624" stroke-width="2.3" opacity="0.55"/>
<line x1="1376" y1="352" x2="1410" y2="351" stroke="#8e7258" stroke-width="2.0" opacity="0.55"/>
<line x1="1304" y1="361" x2="1361" y2="361" stroke="#8e7258" stroke-width="1.6" opacity="0.55"/>
<line x1="1395" y1="361" x2="1449" y2="361" stroke="#4a3624" stroke-width="1.9" opacity="0.55"/>
<line x1="1282" y1="361" x2="1326" y2="361" stroke="#4a3624" stroke-width="2.5" opacity="0.55"/>
<line x1="1360" y1="361" x2="1417" y2="361" stroke="#4a3624" stroke-width="2.9" opacity="0.55"/>
<line x1="1353" y1="368" x2="1379" y2="368" stroke="#8e7258" stroke-width="1.5" opacity="0.55"/>
<line x1="1379" y1="368" x2="1437" y2="367" stroke="#8e7258" stroke-width="2.4" opacity="0.55"/>
<line x1="1371" y1="368" x2="1415" y2="367" stroke="#4a3624" stroke-width="2.0" opacity="0.55"/>
<line x1="1366" y1="375" x2="1405" y2="375" stroke="#8e7258" stroke-width="2.9" opacity="0.55"/>
<line x1="1294" y1="375" x2="1339" y2="376" stroke="#8e7258" stroke-width="1.9" opacity="0.55"/>
<line x1="1340" y1="383" x2="1389" y2="384" stroke="#4a3624" stroke-width="2.6" opacity="0.55"/>
<line x1="1328" y1="383" x2="1368" y2="384" stroke="#8e7258" stroke-width="2.3" opacity="0.55"/>
<line x1="1328" y1="383" x2="1372" y2="383" stroke="#4a3624" stroke-width="2.8" opacity="0.55"/>
<line x1="1316" y1="390" x2="1339" y2="389" stroke="#4a3624" stroke-width="2.1" opacity="0.55"/>
<line x1="1388" y1="390" x2="1420" y2="390" stroke="#4a3624" stroke-width="3.0" opacity="0.55"/>
<line x1="1365" y1="390" x2="1404" y2="389" stroke="#8e7258" stroke-width="2.9" opacity="0.55"/>
<line x1="1385" y1="396" x2="1420" y2="396" stroke="#8e7258" stroke-width="1.7" opacity="0.55"/>
<line x1="1392" y1="396" x2="1414" y2="397" stroke="#4a3624" stroke-width="1.5" opacity="0.55"/>
<line x1="1305" y1="396" x2="1349" y2="396" stroke="#8e7258" stroke-width="1.6" opacity="0.55"/>
<line x1="1408" y1="403" x2="1420" y2="403" stroke="#8e7258" stroke-width="1.6" opacity="0.55"/>
<line x1="1332" y1="412" x2="1351" y2="413" stroke="#8e7258" stroke-width="1.8" opacity="0.55"/>
<line x1="1337" y1="412" x2="1372" y2="412" stroke="#8e7258" stroke-width="1.9" opacity="0.55"/>
<line x1="1388" y1="421" x2="1420" y2="422" stroke="#8e7258" stroke-width="2.7" opacity="0.55"/>
<line x1="1286" y1="421" x2="1324" y2="421" stroke="#8e7258" stroke-width="1.6" opacity="0.55"/>
<line x1="1382" y1="421" x2="1420" y2="421" stroke="#4a3624" stroke-width="1.9" opacity="0.55"/>
<line x1="1358" y1="421" x2="1397" y2="422" stroke="#8e7258" stroke-width="1.6" opacity="0.55"/>
<line x1="1368" y1="429" x2="1419" y2="428" stroke="#8e7258" stroke-width="2.0" opacity="0.55"/>
<line x1="1370" y1="435" x2="1390" y2="435" stroke="#4a3624" stroke-width="2.7" opacity="0.55"/>
<line x1="1405" y1="435" x2="1420" y2="435" stroke="#4a3624" stroke-width="2.1" opacity="0.55"/>
<line x1="1351" y1="435" x2="1406" y2="436" stroke="#8e7258" stroke-width="1.5" opacity="0.55"/>
<line x1="1317" y1="435" x2="1344" y2="435" stroke="#4a3624" stroke-width="2.1" opacity="0.55"/>
<line x1="1387" y1="445" x2="1420" y2="444" stroke="#4a3624" stroke-width="2.4" opacity="0.55"/>
<line x1="1374" y1="445" x2="1420" y2="445" stroke="#8e7258" stroke-width="2.0" opacity="0.55"/>
<line x1="1363" y1="445" x2="1409" y2="444" stroke="#8e7258" stroke-width="2.0" opacity="0.55"/>
<line x1="1371" y1="453" x2="1398" y2="454" stroke="#4a3624" stroke-width="2.4" opacity="0.55"/>
<line x1="1410" y1="453" x2="1420" y2="454" stroke="#4a3624" stroke-width="2.0" opacity="0.55"/>
<line x1="1323" y1="453" x2="1381" y2="454" stroke="#8e7258" stroke-width="3.0" opacity="0.55"/>
<line x1="1310" y1="453" x2="1354" y2="453" stroke="#8e7258" stroke-width="1.7" opacity="0.55"/>
<line x1="1358" y1="461" x2="1382" y2="460" stroke="#4a3624" stroke-width="1.8" opacity="0.55"/>
<line x1="1350" y1="461" x2="1366" y2="461" stroke="#8e7258" stroke-width="2.5" opacity="0.55"/>
<line x1="1370" y1="461" x2="1414" y2="460" stroke="#8e7258" stroke-width="2.4" opacity="0.55"/>
<line x1="1353" y1="461" x2="1401" y2="461" stroke="#4a3624" stroke-width="2.4" opacity="0.55"/>
<line x1="1415" y1="461" x2="1420" y2="461" stroke="#8e7258" stroke-width="2.8" opacity="0.55"/>
<line x1="1402" y1="470" x2="1420" y2="469" stroke="#8e7258" stroke-width="2.4" opacity="0.55"/>
<line x1="1298" y1="470" x2="1331" y2="470" stroke="#4a3624" stroke-width="2.4" opacity="0.55"/>
<line x1="1325" y1="470" x2="1359" y2="470" stroke="#8e7258" stroke-width="2.1" opacity="0.55"/>
<line x1="1402" y1="470" x2="1420" y2="470" stroke="#8e7258" stroke-width="2.7" opacity="0.55"/>
<path d="M1625,607 q11,-4 22,2" stroke="#a86a22" stroke-width="3.9" fill="none" opacity="0.6"/>
<path d="M1640,511 q24,3 49,0" stroke="#a86a22" stroke-width="3.3" fill="none" opacity="0.6"/>
<path d="M1794,557 q20,-3 41,1" stroke="#c08030" stroke-width="2.8" fill="none" opacity="0.6"/>
<path d="M1761,513 q35,2 69,-1" stroke="#6a4218" stroke-width="2.8" fill="none" opacity="0.6"/>
<path d="M1411,508 q33,1 66,-2" stroke="#6a4218" stroke-width="2.6" fill="none" opacity="0.6"/>
<path d="M1580,605 q34,-0 69,-2" stroke="#c08030" stroke-width="3.9" fill="none" opacity="0.6"/>
<path d="M1414,588 q15,4 30,-2" stroke="#a86a22" stroke-width="3.3" fill="none" opacity="0.6"/>
<path d="M1795,587 q20,3 41,1" stroke="#6a4218" stroke-width="3.6" fill="none" opacity="0.6"/>
<path d="M1615,586 q16,2 32,3" stroke="#c08030" stroke-width="3.4" fill="none" opacity="0.6"/>
<path d="M1621,589 q30,-3 60,-1" stroke="#6a4218" stroke-width="3.0" fill="none" opacity="0.6"/>
<path d="M1594,570 q26,-4 53,-1" stroke="#6a4218" stroke-width="2.8" fill="none" opacity="0.6"/>
<path d="M1423,562 q18,0 36,-1" stroke="#a86a22" stroke-width="3.2" fill="none" opacity="0.6"/>
<path d="M1709,523 q12,-3 24,-2" stroke="#6a4218" stroke-width="2.3" fill="none" opacity="0.6"/>
<path d="M1497,585 q19,-3 37,-1" stroke="#a86a22" stroke-width="3.1" fill="none" opacity="0.6"/>
<path d="M1685,576 q34,2 69,2" stroke="#b07428" stroke-width="3.6" fill="none" opacity="0.6"/>
<path d="M1799,522 q27,3 55,-0" stroke="#b07428" stroke-width="3.8" fill="none" opacity="0.6"/>
<path d="M1658,529 q16,-0 32,0" stroke="#a86a22" stroke-width="3.0" fill="none" opacity="0.6"/>
<path d="M1833,577 q16,0 32,2" stroke="#a86a22" stroke-width="2.0" fill="none" opacity="0.6"/>
<path d="M1800,551 q24,4 48,-1" stroke="#6a4218" stroke-width="2.8" fill="none" opacity="0.6"/>
<path d="M1860,508 q26,-6 52,-3" stroke="#b07428" stroke-width="3.5" fill="none" opacity="0.6"/>
<path d="M1879,589 q12,-0 25,2" stroke="#c08030" stroke-width="2.1" fill="none" opacity="0.6"/>
<path d="M1739,569 q18,-2 37,2" stroke="#6a4218" stroke-width="3.1" fill="none" opacity="0.6"/>
<path d="M1836,531 q19,1 37,2" stroke="#6a4218" stroke-width="2.6" fill="none" opacity="0.6"/>
<path d="M1794,544 q23,4 45,-1" stroke="#6a4218" stroke-width="2.4" fill="none" opacity="0.6"/>
<path d="M1626,513 q15,-4 30,3" stroke="#6a4218" stroke-width="2.2" fill="none" opacity="0.6"/>
<path d="M1878,544 q24,1 48,-3" stroke="#c08030" stroke-width="2.6" fill="none" opacity="0.6"/>
<path d="M1383,521 q33,3 66,2" stroke="#b07428" stroke-width="3.2" fill="none" opacity="0.6"/>
<path d="M1688,569 q27,-3 55,1" stroke="#b07428" stroke-width="2.9" fill="none" opacity="0.6"/>
<path d="M1761,511 q15,-1 29,-2" stroke="#b07428" stroke-width="3.9" fill="none" opacity="0.6"/>
<path d="M1387,596 q13,1 27,-1" stroke="#6a4218" stroke-width="2.6" fill="none" opacity="0.6"/>
<path d="M1591,535 q21,-0 42,0" stroke="#b07428" stroke-width="3.6" fill="none" opacity="0.6"/>
<path d="M1767,546 q27,-1 55,-3" stroke="#c08030" stroke-width="2.8" fill="none" opacity="0.6"/>
<path d="M1676,603 q35,3 69,0" stroke="#c08030" stroke-width="2.2" fill="none" opacity="0.6"/>
<path d="M1616,599 q26,-6 51,1" stroke="#c08030" stroke-width="2.2" fill="none" opacity="0.6"/>
<path d="M1863,510 q32,-0 63,-1" stroke="#a86a22" stroke-width="3.1" fill="none" opacity="0.6"/>
<path d="M1605,582 q33,3 66,1" stroke="#6a4218" stroke-width="3.7" fill="none" opacity="0.6"/>
<path d="M1745,509 q26,-0 51,3" stroke="#c08030" stroke-width="2.5" fill="none" opacity="0.6"/>
<path d="M1862,579 q10,5 21,1" stroke="#b07428" stroke-width="3.2" fill="none" opacity="0.6"/>
<path d="M1574,534 q25,1 50,-1" stroke="#c08030" stroke-width="3.9" fill="none" opacity="0.6"/>
<path d="M1744,552 q14,-2 28,1" stroke="#b07428" stroke-width="3.3" fill="none" opacity="0.6"/>
<path d="M1780,100 L1930,120 L1930,300 L1800,300 Z" fill="#75695f" opacity="0.8"/>
<!-- trees -->
<rect x="1270" y="-10" width="660" height="48" fill="#3f5828"/>
<ellipse cx="1380" cy="12" rx="40" ry="18" fill="#5e7a34"/>
<ellipse cx="1470" cy="8" rx="50" ry="16" fill="#6a8a3c"/>
<ellipse cx="1560" cy="16" rx="40" ry="14" fill="#55722e"/>
<ellipse cx="1700" cy="10" rx="50" ry="16" fill="#617e38"/>
<ellipse cx="1850" cy="14" rx="50" ry="18" fill="#56742f"/>
<rect x="1270" y="30" width="660" height="17" fill="#6a6650"/>
<rect x="1399" y="36.5" width="36" height="9.5" fill="#dcdce6"/>
<rect x="1437" y="36.5" width="34" height="9.5" fill="#e2e0e6"/>
<rect x="1474" y="36.5" width="32" height="9.5" fill="#dedee8"/>
<rect x="1509" y="35" width="32" height="10" fill="#2a80d0"/>
<rect x="1340" y="40" width="24" height="9" fill="#d8c8d0"/>
<rect x="1613" y="0" width="12" height="32" fill="#ead6da"/>
<rect x="1668" y="0" width="14" height="32" fill="#ecd8dc"/>
<rect x="1733" y="0" width="12" height="29" fill="#eed8dc"/>
<rect x="1748" y="0" width="15" height="28" fill="#eed6da"/>
<rect x="1863" y="0" width="17" height="14" fill="#eed6da"/>
<path d="M1617,8 L1622,20 M1672,6 L1678,22 M1752,6 L1758,18" stroke="#d04050" stroke-width="3" opacity="0.7"/>
<rect x="1806" y="0" width="31" height="12" fill="#4a9ad8"/>
<path d="M1800,48 L1830,12 M1812,14 L1840,48 M1830,12 L1830,48 M1850,12 L1868,48" stroke="#9c8a70" stroke-width="3"/>
<rect x="1797" y="10" width="75" height="3" fill="#8a7a60"/>
<path d="M1270,45 L1930,45 L1930,133 L1790,110 L1560,86 L1270,83 Z" fill="url(#beach)"/>
<path d="M1700,100 L1930,122 L1930,133 L1790,110 Z" fill="#8a9060" opacity="0.5"/>
<rect x="1895" y="0" width="8" height="92" fill="#8a8a80"/>
<line x1="1440" y1="30" x2="1437" y2="70" stroke="#c8c0a0" stroke-width="2"/>
<!-- buoy -->
<rect x="1416" y="112.6" width="114.7" height="52.6" rx="18" ry="26" fill="#1d5ac6"/>
<rect x="1420" y="115" width="108" height="12" rx="6" fill="#3a78dc" opacity="0.6"/>
<text x="1452.5" y="136.3" font-family="Liberation Sans, sans-serif" font-weight="bold" font-size="18" fill="#fff" textLength="62.5" lengthAdjust="spacingAndGlyphs">YAMAHA</text>
<circle cx="1440.4" cy="130" r="6.5" fill="none" stroke="#fff" stroke-width="2"/>
<ellipse cx="1470" cy="170" rx="45" ry="5" fill="#3050a8" opacity="0.5"/>
<line x1="1805" y1="161" x2="1930" y2="158" stroke="#e8eef4" stroke-width="2.5"/>
<!-- motor apron/body -->
<path d="M1490,172 L1600,63.5 C1620,52 1645,43 1665,42 C1705,41 1745,58 1770,85 C1795,112 1812,160 1820,200 L1822,300 C1815,320 1800,335 1772,342 L1760,360 L1720,350 L1690,335 L1640,338 L1600,345 L1575,375 L1555,420 L1545,450 L1520,455 L1495,445 L1478,420 L1470,380 L1472,330 L1475,300 L1476,200 Z" fill="url(#apron)"/>
<path d="M1476,200 L1482,180 L1490,172 L1490,176 L1481,200 Z" fill="#6a7686"/>
<!-- black cover -->
<path d="M1490,172 L1600,63.5 C1620,52 1645,43 1665,42 C1705,41 1745,58 1770,85 C1795,112 1812,160 1820,200 L1821,250 C1818,290 1805,318 1772,335 L1730,293 L1686,276 L1613,249 L1540,210 Z" fill="url(#cowl)"/>
<path d="M1492,170 L1600,62 C1620,50 1645,41 1665,40" fill="none" stroke="#4a6688" stroke-width="2.5"/>
<path d="M1672.5,73 C1690,76 1712,82 1724,88 C1745,98 1760,110 1765,118 C1772,128 1776,138 1775,144 L1772.7,147 C1767,142 1762,138 1756,134.5 C1745,125 1732,115 1719.5,106 C1705,96 1688,88 1674.5,81.4 Z" fill="#06080d"/>
<!-- handle recess -->
<path d="M1494,198 L1502,194 L1522,226 L1527,236 L1519,238 L1506,220 Z" fill="#5a6474"/>
<path d="M1496,200 L1502,197 L1512,214 L1505,216 Z" fill="#1e2430"/>
<!-- red stripe and vmax -->
<path d="M1553,172 L1560,179.5 L1703,235 L1745,255 L1748,272 L1734,278 L1703,261 L1560,204 L1552,196 Z" fill="#d0141c"/>
<path d="M1556,196 L1703,262 L1745,285 L1742,296 L1700,283 L1600,238 L1560,218 Z" fill="#a09e74" opacity="0.85"/>
<path d="M1585,150 C1620,140 1660,150 1690,170 L1745,205 L1765,240 L1725,250 L1680,225 L1640,200 L1595,172 Z" fill="#b01c24" opacity="0.3"/>
<text x="0" y="0" transform="translate(1566,170) rotate(31) skewX(-14)" font-family="Liberation Sans, sans-serif" font-weight="bold" font-size="50" fill="#dcd8b8" stroke="#1a1a20" stroke-width="1" textLength="205" lengthAdjust="spacingAndGlyphs">VMax</text>
<text x="0" y="0" transform="translate(1636,137) rotate(33)" font-family="Liberation Sans, sans-serif" font-weight="bold" font-size="26" fill="#f2f2f2" stroke="#f2f2f2" stroke-width="0.6" textLength="92" lengthAdjust="spacingAndGlyphs">YAMAHA</text>
<circle cx="1627.6" cy="118.8" r="10.5" fill="none" stroke="#f0f0f0" stroke-width="2.8"/>
<path d="M1627.6,110.5 L1627.6,127 M1620.5,114.5 L1634.7,123 M1620.5,123 L1634.7,114.5" stroke="#f0f0f0" stroke-width="1.8"/>
<!-- lower leg -->
<path d="M1472,318 L1520,335 L1575,345 L1590,370 L1570,420 L1548,450 L1512,442 L1497,390 L1480,360 Z" fill="url(#leg)"/>
<path d="M1410,369 L1440,358 L1472,352 L1485,365 L1497,390 L1505,425 L1514,443 Z" fill="#a4a9b1"/>
<path d="M1495,389 L1540,405 L1548,440 L1515,438 Z" fill="#6c727e"/>
<!-- anti-ventilation plate -->
<path d="M1365.7,380.8 L1412,370 L1543.6,448.6 L1537,457 L1437.7,445.5 L1367.8,391.4 Z" fill="#17191f"/>
<path d="M1410,369 L1414,367.5 L1546,451 L1540,455 Z" fill="#e0222a"/>
<path d="M1393,406 L1404,410 L1403,448 L1376,448 Z" fill="#b8bcc2"/>
<ellipse cx="1380" cy="455" rx="28" ry="10" fill="#b8c2c0" opacity="0.6"/>
<!-- steering bracket -->
<path d="M1570,372 L1600,345 L1640,335 L1700,330 L1768,345 L1770,370 L1745,400 L1725,455 L1700,468 L1660,460 L1640,440 L1622,440 L1605,455 L1585,458 L1575,430 Z" fill="#2c3038"/>
<path d="M1620,312 L1640,318 L1770,360 L1768,372 L1630,330 Z" fill="#454b56"/>
<path d="M1590,360 L1640,345 L1650,352 L1610,400 L1600,455 L1585,455 L1582,420 Z" fill="#4a505c"/>
<path d="M1650,380 C1660,372 1690,372 1705,380 L1712,400 L1705,440 L1712,457 L1690,466 L1670,458 L1660,440 L1648,410 Z" fill="#4e5562"/>
<path d="M1662,392 C1670,388 1690,390 1696,398 L1694,430 L1680,445 L1668,430 Z" fill="#2a2e36"/>
<circle cx="1708" cy="382" r="5" fill="#8a8e96"/>
<circle cx="1731" cy="388" r="3.5" fill="#8a8e96"/>
<path d="M1628,355 L1648,355 L1640,400 L1625,445 L1618,440 L1628,400 Z" fill="#5a6070" opacity="0.8"/>
<!-- dark water band -->
<path d="M1355,450 C1420,445 1480,452 1545,458 C1600,460 1650,458 1700,470 L1700,490 C1640,495 1560,500 1480,498 C1430,495 1385,485 1355,475 Z" fill="#283640" opacity="0.85"/>
<path d="M1480,520 C1550,515 1620,525 1700,540 M1420,560 C1500,550 1600,560 1690,580 M1560,590 C1620,585 1680,592 1740,600" stroke="#a86c26" stroke-width="3" fill="none" opacity="0.6"/>
<!-- red bracket -->
<path d="M1687,402 L1712,398 L1740,405 L1790,398 L1814,402 L1816,470 L1800,478 L1720,474 L1698,470 Z" fill="#e41c1c"/>
<path d="M1740,409 L1766,409 L1770,448 L1745,452 Z" fill="#b9aea8"/>
<path d="M1691,462 L1812,462 L1812,492 L1740,492 L1700,480 Z" fill="#d8301a" opacity="0.75"/>
<path d="M1720,500 L1800,505 L1790,515 L1730,512 Z" fill="#c85020" opacity="0.5"/>
<!-- boat -->
<path d="M1801,262 L1930,238 L1930,520 L1860,540 L1830,520 L1816,470 L1814,402 L1790,395 L1768,345 L1790,300 Z" fill="#e8e8ea"/>
<path d="M1849,293 L1930,270 L1930,370 L1880,368 L1860,340 Z" fill="#4c5262"/>
<path d="M1768,300 L1800,293 L1845,292 L1860,340 L1867,402 L1812,402 L1790,392 L1770,360 Z" fill="#a6aab2"/>
<path d="M1816,400 C1826,390 1880,386 1930,390 L1930,520 L1860,530 C1835,520 1822,495 1818,460 Z" fill="#f2f2f2"/>
<path d="M1823,497 L1930,488 L1930,497 L1826,508 Z" fill="#3a4050"/>
<path d="M1826,508 L1930,500 L1930,540 L1850,545 Z" fill="#d6d6d8"/>
<path d="M1912,440 L1925,432 L1925,455 L1912,458 Z" fill="#c82030"/>
<!-- hose -->
<path d="M1757,354 C1790,378 1840,382 1870,370 C1890,360 1898,345 1895,334 C1892,325 1885,322 1878,328" fill="none" stroke="#1c1c1e" stroke-width="22"/>
<path d="M1757,354 C1790,378 1840,382 1870,370 C1890,360 1898,345 1895,334" fill="none" stroke="#3a3a3c" stroke-width="4" opacity="0.7"/>
</g>

</svg>
</body></html>
